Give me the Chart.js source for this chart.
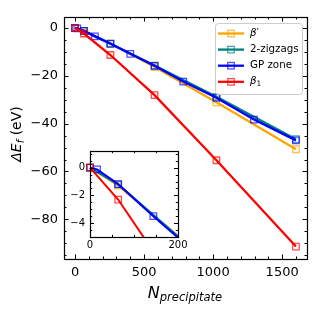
<!DOCTYPE html>
<html>
<head>
<meta charset="utf-8">
<script src="https://cdn.jsdelivr.net/npm/chart.js@4.4.1/dist/chart.umd.min.js"></script>
<style>
  html, body { margin: 0; padding: 0; background: #fff; }
  #wrap { position: relative; width: 319px; height: 319px; }
  #main { position: absolute; left: 0; top: 0; }
  #inset { position: absolute; left: 60px; top: 140px; }
</style>
</head>
<body>
<div id="wrap">
  <canvas id="main" width="319" height="319"></canvas>
  <canvas id="inset" width="132" height="115"></canvas>
</div>
<script>
// formation energy vs precipitate size, with a zoom of the first 200 atoms

const nBetaPrime = [0, 64, 256, 576, 1024, 1600];
const eBetaPrime = [0, -1.3, -6.4, -16.3, -31.1, -50.7];

const nZigzag = [0, 64, 256, 576, 1024, 1600];
const eZigzag = [0, -1.2, -6.5, -15.7, -28.8, -46.5];

const nGP = [0, 16, 64, 144, 256, 400, 576, 784, 1024, 1296, 1600];
const eGP = [0, -0.12, -1.19, -3.5, -6.6, -10.8, -15.8, -22.4, -29.2, -38.3, -47.0];

const nBeta1 = [0, 64, 256, 576, 1024, 1600];
const eBeta1 = [0, -2.3, -11.3, -28.1, -55.3, -91.4];

const xTicks = [0, 500, 1000, 1500];
const yTicks = [-80, -60, -40, -20, 0];
const insetXTicks = [0, 200];
const insetYTicks = [-4, -2, 0];

const legendLabels = [
  [{ t: "β", it: true }, { t: "′" }],
  [{ t: "2-zigzags" }],
  [{ t: "GP zone" }],
  [{ t: "β", it: true }, { t: "1", sub: true }],
];

const FONT = "DejaVu Sans";
Chart.defaults.font.family = FONT;
Chart.defaults.color = "#000";

const fmt = (v) => (v < 0 ? "\u2212" + -v : String(v));

function fade(hex, a) {
  const n = parseInt(hex.slice(1), 16);
  return `rgba(${n >> 16}, ${(n >> 8) & 255}, ${n & 255}, ${a})`;
}

function series(label, n, e, color, order, clip, lw) {
  return {
    label,
    order,
    clip,
    data: n.map((v, i) => ({ x: v, y: e[i] })),
    showLine: true,
    borderColor: color,
    borderWidth: lw,
    pointStyle: "rect",
    pointRadius: 4.6,
    pointHoverRadius: 4.6,
    pointBorderWidth: 1.3,
    pointBorderColor: fade(color, 0.7),
    pointBackgroundColor: "rgba(0,0,0,0)",
  };
}

function allSeries(clip, lw) {
  return [
    series("β′", nBetaPrime, eBetaPrime, "#ffa500", 4, clip, lw),
    series("2-zigzags", nZigzag, eZigzag, "#008080", 3, clip, lw),
    series("GP zone", nGP, eGP, "#0000ff", 2, clip, lw),
    series("β1", nBeta1, eBeta1, "#ff0000", 1, clip, lw),
  ];
}

// text with italic parts and subscripts
function drawRich(ctx, parts, x, y, size, align) {
  const fontOf = (p) => `${p.it ? "italic " : ""}${p.sub ? size * 0.72 : size}px "${FONT}"`;
  let w = 0;
  parts.forEach((p) => {
    ctx.font = fontOf(p);
    p.w = ctx.measureText(p.t).width;
    w += p.w;
  });
  let cx = align === "center" ? x - w / 2 : x;
  parts.forEach((p) => {
    ctx.font = fontOf(p);
    ctx.fillText(p.t, cx, y + (p.sub ? size * 0.18 : 0));
    cx += p.w;
  });
}

// inward ticks on all four sides plus the box
const frame = {
  id: "frame",
  beforeDraw(chart) {
    const { ctx, chartArea: a } = chart;
    ctx.save();
    ctx.fillStyle = "#fff";
    ctx.fillRect(a.left, a.top, a.width, a.height);
    ctx.restore();
  },
  afterDatasetsDraw(chart, args, o) {
    const { ctx, chartArea: a, scales } = chart;
    const xs = scales.x, ys = scales.y;
    ctx.save();
    ctx.strokeStyle = "#000";
    ctx.lineWidth = 1;
    const seg = (x1, y1, x2, y2) => {
      ctx.beginPath();
      ctx.moveTo(x1, y1);
      ctx.lineTo(x2, y2);
      ctx.stroke();
    };
    const xMark = (v, len) => {
      const p = Math.round(xs.getPixelForValue(v)) + 0.5;
      seg(p, a.bottom, p, a.bottom - len);
      seg(p, a.top, p, a.top + len);
    };
    const yMark = (v, len) => {
      const p = Math.round(ys.getPixelForValue(v)) + 0.5;
      seg(a.left, p, a.left + len, p);
      seg(a.right, p, a.right - len, p);
    };
    for (let v = Math.ceil(xs.min / o.xStep) * o.xStep; v <= xs.max; v += o.xStep) xMark(v, o.minor);
    for (let v = Math.ceil(ys.min / o.yStep) * o.yStep; v <= ys.max; v += o.yStep) yMark(v, o.minor);
    o.xMajor.forEach((v) => xMark(v, o.major));
    o.yMajor.forEach((v) => yMark(v, o.major));
    ctx.lineWidth = 1.2;
    ctx.strokeRect(Math.round(a.left) + 0.5, Math.round(a.top) + 0.5,
      Math.round(a.width), Math.round(a.height));
    ctx.restore();
  },
};

const legendAndTitles = {
  id: "legendAndTitles",
  afterDraw(chart) {
    const ctx = chart.ctx;
    ctx.save();
    // legend box
    ctx.fillStyle = "rgba(255,255,255,0.8)";
    ctx.strokeStyle = "#cccccc";
    ctx.lineWidth = 1;
    ctx.beginPath();
    ctx.roundRect(215.5, 23.5, 87, 71, 3);
    ctx.fill();
    ctx.stroke();
    chart.data.datasets.forEach((ds, i) => {
      const y = 33.5 + i * 16.1;
      ctx.strokeStyle = ds.borderColor;
      ctx.lineWidth = 2.3;
      ctx.beginPath();
      ctx.moveTo(218, y);
      ctx.lineTo(244, y);
      ctx.stroke();
      ctx.strokeStyle = ds.pointBorderColor;
      ctx.lineWidth = 1.3;
      ctx.strokeRect(231 - 3.25, y - 3.25, 6.5, 6.5);
      ctx.fillStyle = "#000";
      ctx.textBaseline = "middle";
      ctx.textAlign = "left";
      drawRich(ctx, legendLabels[i].map((p) => ({ ...p })), 250, y, 10.3, "left");
    });
    // axis titles
    ctx.fillStyle = "#000";
    ctx.textAlign = "left";
    ctx.textBaseline = "alphabetic";
    drawRich(ctx, [{ t: "N", it: true }, { t: "precipitate", it: true, sub: true }],
      185, 298, 16, "center");
    ctx.translate(21, 134);
    ctx.rotate(-Math.PI / 2);
    drawRich(ctx, [{ t: "ΔE", it: true }, { t: "f", it: true, sub: true }, { t: " (eV)" }],
      0, 0, 14, "center");
    ctx.restore();
  },
};

function axis(min, max, ticks, size, pad, fit) {
  return {
    type: "linear",
    min,
    max,
    grid: { display: false, drawTicks: false },
    border: { display: false },
    afterBuildTicks: (s) => { s.ticks = ticks.map((v) => ({ value: v })); },
    afterFit: fit,
    ticks: { padding: pad, font: { size }, color: "#000", callback: fmt, maxRotation: 0, autoSkip: false },
  };
}

new Chart(document.getElementById("main"), {
  type: "scatter",
  data: { datasets: allSeries(undefined, 2.3) },
  options: {
    responsive: false,
    animation: false,
    layout: { padding: { top: 17, right: 12, left: 0, bottom: 0 } },
    plugins: {
      legend: { display: false },
      tooltip: { enabled: false },
      frame: { xMajor: xTicks, yMajor: yTicks, xStep: 100, yStep: 5, major: 4.5, minor: 2.5 },
    },
    scales: {
      x: axis(-80, 1680, xTicks, 13, 6, (s) => { s.height = 60; }),
      y: axis(-96.6, 4.6, yTicks, 13, 6, (s) => { s.width = 64; }),
    },
  },
  plugins: [frame, legendAndTitles],
});

new Chart(document.getElementById("inset"), {
  type: "scatter",
  data: { datasets: allSeries({ left: 6, top: 0, right: 0, bottom: 0 }, 2) },
  options: {
    responsive: false,
    animation: false,
    layout: { padding: { top: 6, right: 14, left: 0, bottom: 0 } },
    plugins: {
      legend: { display: false },
      tooltip: { enabled: false },
      frame: { xMajor: insetXTicks, yMajor: insetYTicks, xStep: 50, yStep: 0.5, major: 4, minor: 2.2 },
    },
    scales: {
      x: axis(0, 200, insetXTicks, 10, 2, (s) => { s.height = 18; }),
      y: axis(-5, 1.2, insetYTicks, 10, 5, (s) => { s.width = 30; }),
    },
  },
  plugins: [frame],
});
</script>
</body>
</html>
